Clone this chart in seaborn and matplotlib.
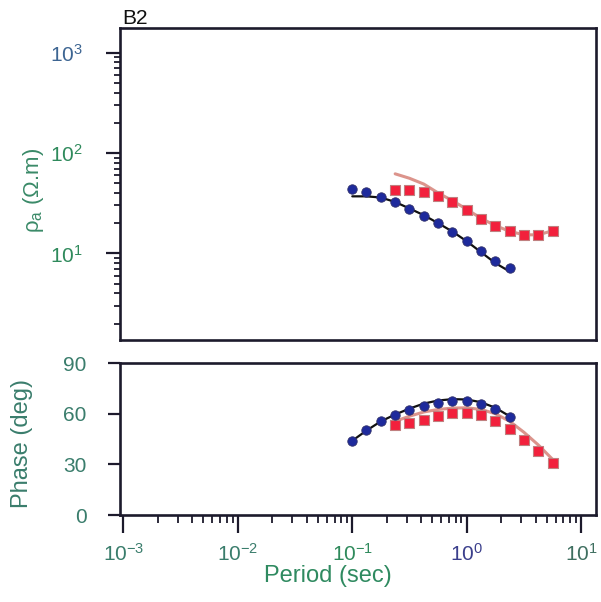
import matplotlib
matplotlib.use("Agg")
import numpy as np
import pandas as pd
import matplotlib.pyplot as plt
import seaborn as sns
from matplotlib.ticker import FixedLocator, NullFormatter, NullLocator

# periods (sec) of the sounding
period_xy = [0.100, 0.133, 0.178, 0.237, 0.316, 0.422, 0.562, 0.750, 1.00, 1.33, 1.78, 2.37]
period_yx = [0.237, 0.316, 0.422, 0.562, 0.750, 1.00, 1.33, 1.78, 2.37, 3.16, 4.22, 5.62]

# apparent resistivity (ohm.m)
rho_xy_obs = [43.6, 41.3, 36.8, 32.4, 27.5, 23.6, 20.0, 16.3, 13.4, 10.5, 8.4, 7.1]
rho_xy_fit = [37.0, 37.0, 36.0, 32.5, 28.0, 24.0, 20.0, 16.5, 13.2, 10.3, 8.0, 6.6]
rho_yx_obs = [43.0, 43.0, 41.3, 37.7, 32.8, 26.9, 22.2, 18.8, 16.6, 15.2, 15.2, 16.8]
rho_yx_fit = [62.0, 56.0, 49.0, 40.0, 33.5, 27.5, 22.4, 18.9, 16.6, 15.3, 15.3, 16.8]

# phase (deg)
phase_xy_obs = [43.9, 50.2, 55.7, 59.3, 62.2, 64.8, 66.6, 67.3, 67.3, 65.8, 63.0, 58.1]
phase_xy_fit = [44.0, 50.0, 55.5, 59.5, 63.0, 66.0, 67.8, 68.6, 68.4, 66.8, 63.5, 58.5]
phase_yx_obs = [53.0, 54.6, 56.5, 58.5, 60.5, 60.5, 59.5, 55.9, 51.0, 44.7, 37.8, 30.5]
phase_yx_fit = [55.5, 58.5, 61.0, 62.5, 63.3, 63.5, 62.5, 60.0, 55.5, 49.0, 41.5, 33.0]

x_ticks = [1e-3, 1e-2, 1e-1, 1e0, 1e1]
x_labels = ["$10^{-3}$", "$10^{-2}$", "$10^{-1}$", "$10^{0}$", "$10^{1}$"]
rho_ticks = [1e1, 1e2, 1e3]
rho_labels = ["$10^{1}$", "$10^{2}$", "$10^{3}$"]
phase_ticks = [0, 30, 60, 90]

GREEN = "#2f8a5c"
TEAL = "#3a7d6c"
BLUE = "#3b3f8c"
SPINE = "#1c1a2c"
BLUE_PT = "#1e2a9c"
RED_PT = "#f2203c"
PINK = "#dc948c"

sns.set_theme(style="ticks")
plt.rcParams["font.family"] = ["Liberation Sans", "DejaVu Sans"]
plt.rcParams["mathtext.default"] = "regular"

df_xy = pd.DataFrame({"period": period_xy, "rho_obs": rho_xy_obs, "rho_fit": rho_xy_fit,
                      "ph_obs": phase_xy_obs, "ph_fit": phase_xy_fit})
df_yx = pd.DataFrame({"period": period_yx, "rho_obs": rho_yx_obs, "rho_fit": rho_yx_fit,
                      "ph_obs": phase_yx_obs, "ph_fit": phase_yx_fit})

fig = plt.figure(figsize=(6.01, 6.02), dpi=100)
ax1 = fig.add_axes([0.1997, 0.4352, 0.7920, 0.5183])
ax2 = fig.add_axes([0.1997, 0.1445, 0.7920, 0.2525])

for ax, col in ((ax1, "rho"), (ax2, "ph")):
    sns.lineplot(data=df_yx, x="period", y=f"{col}_fit", color=PINK, lw=2.2, ax=ax)
    sns.lineplot(data=df_xy, x="period", y=f"{col}_fit", color="#111111", lw=1.6, ax=ax)
    sns.scatterplot(data=df_yx, x="period", y=f"{col}_obs", marker="s", s=56,
                    color=RED_PT, edgecolor="#c08080", linewidth=0.8, ax=ax, zorder=3)
    sns.scatterplot(data=df_xy, x="period", y=f"{col}_obs", marker="o", s=46,
                    color=BLUE_PT, edgecolor="#30306a", linewidth=0.6, ax=ax, zorder=4)
    ax.set_xscale("log")
    ax.set_xlim(10 ** -3.03, 10 ** 1.13)
    ax.set_xlabel("")
    ax.set_ylabel("")
    for s in ax.spines.values():
        s.set_linewidth(1.9)
        s.set_color(SPINE)
        s.set_visible(True)

# top panel: apparent resistivity
ax1.set_yscale("log")
ax1.set_ylim(1.37, 1760)
ax1.yaxis.set_major_locator(FixedLocator(rho_ticks))
ax1.set_yticklabels(rho_labels)
minors = [m * d for d in (1, 10, 100) for m in range(2, 10)]
ax1.yaxis.set_minor_locator(FixedLocator(minors))
ax1.yaxis.set_minor_formatter(NullFormatter())
ax1.xaxis.set_major_locator(NullLocator())
ax1.xaxis.set_minor_locator(NullLocator())
ax1.tick_params(axis="y", which="major", length=10, width=1.6, color=SPINE,
                pad=17, labelsize=15)
ax1.tick_params(axis="y", which="minor", length=4, width=1.3, color=SPINE)
for lab, c in zip(ax1.get_yticklabels(), [GREEN, GREEN, "#3d6592"]):
    lab.set_color(c)
fig.text(0.056, 0.684, r"$\rho_a$ ($\Omega$.m)", rotation=90, ha="center", va="center",
         fontsize=16, color="#3a8a68")
fig.text(0.203, 0.970, "B2", ha="left", va="center", fontsize=15, color="#111111")

# bottom panel: phase
ax2.set_ylim(0, 90)
ax2.set_yticks(phase_ticks)
ax2.set_yticklabels([str(t) for t in phase_ticks])
ax2.set_xticks(x_ticks)
ax2.set_xticklabels(x_labels)
xminors = [m * d for d in (1e-3, 1e-2, 1e-1, 1e0) for m in range(2, 10)]
ax2.xaxis.set_minor_locator(FixedLocator(xminors))
ax2.xaxis.set_minor_formatter(NullFormatter())
ax2.tick_params(axis="y", which="major", length=9, width=1.6, color=SPINE,
                pad=15, labelsize=15, labelcolor=TEAL)
ax2.tick_params(axis="x", which="major", length=13, width=1.6, color=SPINE,
                pad=7, labelsize=15)
ax2.tick_params(axis="x", which="minor", length=6, width=1.3, color=SPINE)
for lab, c in zip(ax2.get_xticklabels(), [TEAL, TEAL, GREEN, BLUE, "#3f6f60"]):
    lab.set_color(c)
fig.text(0.037, 0.264, "Phase (deg)", rotation=90, ha="center", va="center",
         fontsize=17, color=TEAL)
fig.text(0.546, 0.043, "Period (sec)", ha="center", va="center",
         fontsize=17, color="#2f8a60")

fig.savefig("out.png", dpi=100)
